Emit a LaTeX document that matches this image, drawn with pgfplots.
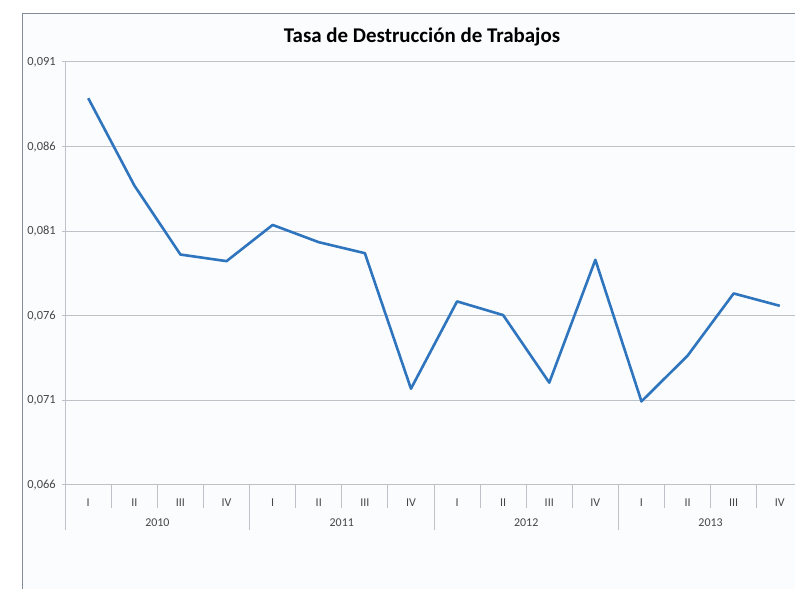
\documentclass[border=0pt]{standalone}
\usepackage{fontspec}
\setmainfont{Carlito}
\usepackage{pgfplots}
\pgfplotsset{compat=1.18}
\definecolor{bg}{RGB}{251,252,254}
\definecolor{gridc}{RGB}{188,194,200}
\definecolor{linec}{RGB}{46,117,190}
\definecolor{txt}{RGB}{70,70,70}
\definecolor{framec}{RGB}{130,140,150}
\pgfplotstableread{
x y
0 0.08886
1 0.0837
2 0.07962
3 0.07923
4 0.08137
5 0.08035
6 0.0797
7 0.07169
8 0.07685
9 0.07604
10 0.07205
11 0.07931
12 0.07094
13 0.07364
14 0.07732
15 0.07659
}\datatable
\begin{document}
\begin{tikzpicture}[x=1bp,y=1bp]
\useasboundingbox (0,0) rectangle (795,589);
\fill[white] (0,0) rectangle (795,589);
\fill[bg] (22,-5) rectangle (800,575);
\draw[framec, line width=1bp] (22,-5) -- (22,575) -- (800,575);
\node[font=\bfseries\fontsize{21}{24}\selectfont, text=black] at (422,552) {Tasa de Destrucción de Trabajos};
\begin{axis}[
  at={(65.2bp,104bp)}, anchor=south west,
  scale only axis, width=737.6bp, height=423bp,
  xmin=-0.5, xmax=15.5, ymin=0.066, ymax=0.091,
  axis x line*=bottom, axis y line*=left,
  axis line style={gridc, line width=1bp},
  ytick={0.066,0.071,0.076,0.081,0.086,0.091},
  ymajorgrids, major grid style={gridc, line width=1bp},
  scaled y ticks=false,
  yticklabel style={/pgf/number format/fixed, /pgf/number format/fixed zerofill, /pgf/number format/precision=3, /pgf/number format/use comma, /pgf/number format/assume math mode=true, font=\fontsize{12.5}{14}\selectfont, text=txt, xshift=-3bp},
  tick align=outside, ytick style={gridc, line width=1bp}, major tick length=3bp,
  xtick={0,...,15},
  xticklabels={I,II,III,IV,I,II,III,IV,I,II,III,IV,I,II,III,IV},
  xtick style={draw=none},
  xticklabel style={anchor=center, yshift=-15bp, font=\fontsize{12}{14}\selectfont, text=txt},
  clip=false,
]
\addplot[linec, line width=2.6bp, line join=round] table[x=x,y=y] {\datatable};
\pgfplotsinvokeforeach{-0.5,0.5,1.5,2.5,3.5,4.5,5.5,6.5,7.5,8.5,9.5,10.5,11.5,12.5,13.5,14.5}{
  \draw[gridc, line width=1bp] (axis cs:#1,0.066) -- ([yshift=-23bp]axis cs:#1,0.066);
}
\pgfplotsinvokeforeach{-0.5,3.5,7.5,11.5}{
  \draw[gridc, line width=1bp] (axis cs:#1,0.066) -- ([yshift=-45bp]axis cs:#1,0.066);
}
\node[font=\fontsize{12}{14}\selectfont, text=txt] at ([yshift=-38bp]axis cs:1.5,0.066) {2010};
\node[font=\fontsize{12}{14}\selectfont, text=txt] at ([yshift=-38bp]axis cs:5.5,0.066) {2011};
\node[font=\fontsize{12}{14}\selectfont, text=txt] at ([yshift=-38bp]axis cs:9.5,0.066) {2012};
\node[font=\fontsize{12}{14}\selectfont, text=txt] at ([yshift=-38bp]axis cs:13.5,0.066) {2013};
\end{axis}
\end{tikzpicture}
\end{document}
